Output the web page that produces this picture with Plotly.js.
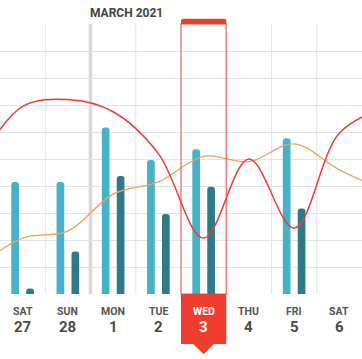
<!DOCTYPE html>
<html><head><meta charset="utf-8">
<script src="https://cdn.plot.ly/plotly-3.0.1.min.js"></script>
<style>html,body{margin:0;padding:0;background:#fff}#chart{width:362px;height:359px}</style>
</head><body><div id="chart"></div>
<script>
const dayNames = ['SAT','SUN','MON','TUE','WED','THU','FRI','SAT'];
const dayNums = ['27','28','1','2','3','4','5','6'];
const dayIdx = [0,1,2,3,4,5,6,7];
const lightVals = [4.15,4.15,6.17,4.96,5.36,null,5.77,null];
const darkVals = [0.2,1.57,4.37,2.96,3.97,null,3.17,null];
const lineX = [-1,0,1,2,3,4,5,6,7,8];
const redVals = [4.8,6.95,7.2,6.75,5.2,2.07,5.0,2.44,5.96,6.9];
const orangeVals = [1.0,2.07,2.33,3.7,4.15,5.1,4.9,5.56,4.6,3.85];
const monthTitle = 'MARCH 2021';
const monthStart = 2;   // index of first March day
const selected = 4;     // highlighted day

const traces = [
  {type:'bar', x:dayIdx, y:lightVals, width:0.17, offset:-0.25,
   marker:{color:'#46b1c7', cornerradius:4}, hoverinfo:'skip'},
  {type:'bar', x:dayIdx, y:darkVals, width:0.17, offset:0.08,
   marker:{color:'#2e7b87', cornerradius:4}, hoverinfo:'skip'},
  {type:'scatter', mode:'lines', x:lineX, y:orangeVals,
   line:{color:'#f4a055', width:1.3, shape:'spline'}, hoverinfo:'skip'},
  {type:'scatter', mode:'lines', x:lineX, y:redVals,
   line:{color:'#ee3b36', width:1.5, shape:'spline'}, hoverinfo:'skip'}
];

const shapes = [];
for (let i = 0; i < dayIdx.length - 1; i++) {
  const b = dayIdx[i] + 0.5;
  shapes.push({type:'line', xref:'x', yref:'paper', x0:b, x1:b, y0:0, y1:1,
    line:{color:'#e4e4e4', width:1}, layer:'below'});
}
shapes.push({type:'line', xref:'x', yref:'paper', x0:monthStart-0.5, x1:monthStart-0.5, y0:0, y1:1,
  line:{color:'#d8d8d8', width:3.5}, layer:'below'});
const s0 = selected - 0.5, s1 = selected + 0.5;
shapes.push({type:'rect', xref:'x', yref:'paper', x0:s0, x1:s1, y0:0, y1:1,
  line:{color:'rgba(238,60,50,0.6)', width:1.5}, fillcolor:'rgba(0,0,0,0)'});
shapes.push({type:'path', xref:'x', yref:'paper',
  path:`M${s0},1 L${s0},1.012 Q${s0},1.019 ${s0+0.04},1.019 L${s1-0.04},1.019 Q${s1},1.019 ${s1},1.012 L${s1},1 Z`,
  fillcolor:'#ef3e2f', line:{width:0}});
shapes.push({type:'path', xref:'x', yref:'paper',
  path:`M${s0},0 L${s1},0 L${s1},-0.185 L${selected+0.23},-0.185 L${selected},-0.223 L${selected-0.23},-0.185 L${s0},-0.185 Z`,
  fillcolor:'#ef3e2f', line:{width:0}});

const annotations = [];
dayIdx.forEach((d,i) => {
  const sel = d === selected;
  annotations.push({x:d, xref:'x', y:-0.064, yref:'paper', text:'<b>'+dayNames[i]+'</b>', showarrow:false,
    xanchor:'center', yanchor:'middle', font:{family:'Roboto', size:10.5, color: sel ? '#ffffff' : '#555555'}});
  annotations.push({x:d, xref:'x', y:-0.124, yref:'paper', text:'<b>'+dayNums[i]+'</b>', showarrow:false,
    xanchor:'center', yanchor:'middle', font:{family:'Roboto', size:15, color: sel ? '#ffffff' : '#4a4a4a'}});
});
annotations.push({x:monthStart-0.5, xref:'x', y:1, yref:'paper', yshift:11, xshift:-3, text:'<b>'+monthTitle+'</b>',
  showarrow:false, xanchor:'left', yanchor:'middle', font:{family:'Roboto', size:12, color:'#444444'}});

const layout = {
  width:362, height:359,
  margin:{l:0, r:0, t:24, b:65, pad:0},
  paper_bgcolor:'#ffffff', plot_bgcolor:'#ffffff',
  showlegend:false, barmode:'overlay',
  xaxis:{range:[-0.5,7.5], showgrid:false, zeroline:false, showticklabels:false, fixedrange:true},
  yaxis:{range:[0,10], dtick:1, showgrid:true, gridcolor:'#e4e4e4', gridwidth:1, zeroline:false,
         showticklabels:false, fixedrange:true},
  shapes:shapes, annotations:annotations
};
Plotly.newPlot('chart', traces, layout, {displayModeBar:false, staticPlot:true});
</script></body></html>
